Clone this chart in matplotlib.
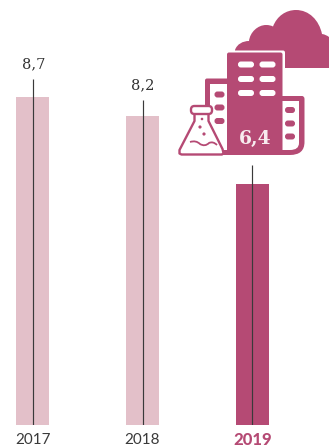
import matplotlib
matplotlib.use('Agg')
import matplotlib.pyplot as plt
from matplotlib.patches import Circle, FancyBboxPatch, Polygon, Rectangle, PathPatch
from matplotlib.path import Path

years = ['2017', '2018', '2019']
values = [8.7, 8.2, 6.4]
value_labels = ['8,7', '8,2', '6,4']
bar_colors = ['#E3C0C9', '#E3C0C9', '#B54A74']

PINK = '#B54A74'
W, H = 329, 448

fig = plt.figure(figsize=(W / 100, H / 100), dpi=100)

# bars, baseline at y=425 px, 37.7 px per unit
ax = fig.add_axes([0, (H - 425) / H, 1, 425 / H])
ax.set_xlim(0, W)
ax.set_ylim(0, 425 / 37.7)
ax.axis('off')
centers = [32.5, 142.5, 252.5]
ax.bar(centers, values, width=33, color=bar_colors, linewidth=0)

# thin leader lines through each bar
line_tops = [9.17, 8.62, 6.9]
line_x = [33.3, 142.6, 252.4]
for x, t in zip(line_x, line_tops):
    ax.plot([x, x], [0, t], color='#3a3a3a', lw=0.85, solid_capstyle='butt', zorder=3)

# pixel overlay for the text and the icon
ov = fig.add_axes([0, 0, 1, 1])
ov.set_xlim(0, W)
ov.set_ylim(H, 0)
ov.axis('off')
ov.patch.set_alpha(0)

ov.text(33.5, 64, value_labels[0], ha='center', va='center', fontsize=10.5, color='#333333', family='DejaVu Serif')
ov.text(142.5, 85, value_labels[1], ha='center', va='center', fontsize=10.5, color='#333333', family='DejaVu Serif')

ov.text(33, 440, years[0], ha='center', va='center', fontsize=11, color='#3a3a3a', family='Lato')
ov.text(142.5, 440, years[1], ha='center', va='center', fontsize=11, color='#3a3a3a', family='Lato')
ov.text(252.5, 440, years[2], ha='center', va='center', fontsize=12, color=PINK, family='Lato', fontweight='black')

# cloud
cloud = Path(
    [(235, 50),
     (237, 44), (243, 41), (249, 41),
     (250, 32), (258, 25), (266, 25),
     (269, 25), (271, 25.5), (273, 26.5),
     (277, 16), (286, 10), (296, 10),
     (309, 10), (319, 20), (322, 34),
     (325, 34.5), (327, 35.5), (329, 37),
     (329, 68), (235, 68), (235, 50)],
    [Path.MOVETO] + [Path.CURVE4] * 18 + [Path.LINETO, Path.LINETO, Path.CLOSEPOLY])
ov.add_patch(PathPatch(cloud, fc=PINK, ec='none', zorder=4))

# white halo behind the building
ov.add_patch(FancyBboxPatch((226, 50.5), 59, 110, boxstyle='round,pad=0,rounding_size=2', fc='white', ec='none', zorder=5))

# left wing, right wing outline, base
ov.add_patch(FancyBboxPatch((205, 78.5), 30, 30, boxstyle='round,pad=0,rounding_size=2', fc=PINK, ec='none', zorder=6))
ov.add_patch(Rectangle((210, 84), 20, 70, fc='white', ec='none', zorder=6))
right_wing = Path(
    [(280, 96), (302, 96), (304.5, 96), (304.5, 99), (304.5, 142), (304.5, 155), (290, 155), (280, 155), (280, 96)],
    [Path.MOVETO, Path.LINETO, Path.CURVE3, Path.CURVE3, Path.LINETO, Path.CURVE3, Path.CURVE3, Path.LINETO, Path.CLOSEPOLY])
ov.add_patch(PathPatch(right_wing, fc=PINK, ec='none', zorder=6))
right_inner = Path(
    [(282, 101), (299, 101), (299, 143), (299, 150), (290, 150), (282, 150), (282, 101)],
    [Path.MOVETO, Path.LINETO, Path.LINETO, Path.CURVE3, Path.CURVE3, Path.LINETO, Path.CLOSEPOLY])
ov.add_patch(PathPatch(right_inner, fc='white', ec='none', zorder=6))
ov.add_patch(Rectangle((205, 150), 40, 5.5, fc=PINK, ec='none', zorder=6))

# main tower
ov.add_patch(FancyBboxPatch((227, 52.5), 55.5, 102.5, boxstyle='round,pad=0,rounding_size=2', fc=PINK, ec='none', zorder=7))

# windows
def window(x, y, w=16, h=6, fc='white'):
    ov.add_patch(FancyBboxPatch((x, y), w, h, boxstyle='round,pad=0,rounding_size=2.9', fc=fc, ec='none', zorder=8))

for y in [61.5, 76, 90]:
    window(238, y)
    window(259.5, y)
for y in [91.5, 104.5, 118]:
    window(214.5, y, 10, 6, PINK)
for y in [107, 120.5, 133.5]:
    window(285, y, 10, 6, PINK)

ov.text(255, 138.5, value_labels[2], ha='center', va='center', fontsize=13.5, color='#F7ECEF', family='DejaVu Serif', fontweight='bold', zorder=9)

# flask
flask = Polygon([(194.5, 112), (194.5, 121), (179.5, 150), (179.5, 153.5), (181.5, 154.5), (222, 154.5), (223.5, 153), (222.5, 149), (208.5, 121), (208.5, 112)],
                closed=True, fc='white', ec=PINK, lw=1.7, joinstyle='round', zorder=10)
ov.add_patch(flask)
ov.add_patch(FancyBboxPatch((191, 106), 21, 8, boxstyle='round,pad=0,rounding_size=3.5', fc='white', ec=PINK, lw=1.7, zorder=11))
wave = Path([(190, 142), (196, 140), (200, 144), (205, 147), (209, 143), (213, 141), (217, 145)],
            [Path.MOVETO, Path.CURVE3, Path.CURVE3, Path.CURVE3, Path.CURVE3, Path.CURVE3, Path.CURVE3])
ov.add_patch(PathPatch(wave, fc='none', ec=PINK, lw=1.3, zorder=11))
for cx, cy, r in [(202, 119, 1.3), (200, 127, 1.6), (204, 134, 1.6)]:
    ov.add_patch(Circle((cx, cy), r, fc=PINK, ec='none', zorder=11))

fig.savefig('out.png', dpi=100)
